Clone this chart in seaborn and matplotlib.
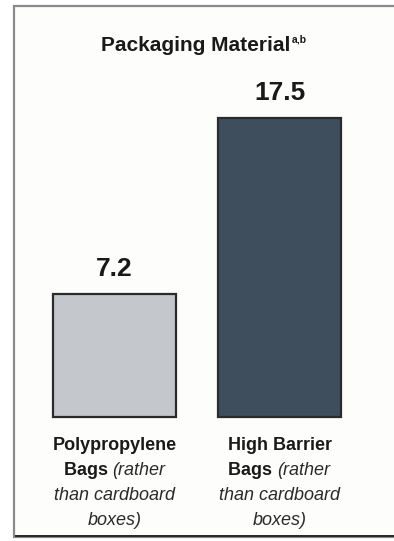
import matplotlib
matplotlib.use("Agg")
import matplotlib.pyplot as plt
from matplotlib.patches import Rectangle
from matplotlib import font_manager
import seaborn as sns
import pandas as pd

categories = ["Polypropylene", "High Barrier"]
values = [7.2, 17.5]
value_labels = ["7.2", "17.5"]
label_bold = [["Polypropylene", "Bags"], ["High Barrier", "Bags"]]
label_italic = [["(rather", "than cardboard", "boxes)"], ["(rather", "than cardboard", "boxes)"]]
title = "Packaging Material"
title_sup = "a,b"
bar_colors = ["#c4c7cc", "#3f4e5d"]

sns.set_theme(style="white")
avail = {f.name for f in font_manager.fontManager.ttflist}
fams = [f for f in ["Liberation Sans Narrow", "Liberation Sans", "DejaVu Sans"] if f in avail]
plt.rcParams["font.family"] = fams

W, H = 394, 541
fig = plt.figure(figsize=(W / 100, H / 100), dpi=100)
fig.patch.set_facecolor("white")

# frame
fig.patches.append(Rectangle((14 / W, 1 - 537 / H), 382 / W, 531 / H, transform=fig.transFigure,
                             facecolor="#fdfdfb", edgecolor="#8a8a8a", linewidth=1.6, zorder=-10))
fig.patches.append(Rectangle((15 / W, 1 - 537 / H), 381 / W, 2.2 / H, transform=fig.transFigure,
                             facecolor="#2a2a2a", edgecolor="none", zorder=-9))

ax_left, ax_right = 32, 362
ax_top, ax_bot = 60, 417
ax = fig.add_axes([ax_left / W, 1 - ax_bot / H, (ax_right - ax_left) / W, (ax_bot - ax_top) / H])
ax.set_facecolor("none")
ax.set_zorder(5)

df = pd.DataFrame({"cat": categories, "val": values})
sns.barplot(data=df, x="cat", y="val", hue="cat", palette=bar_colors, width=0.745,
            legend=False, ax=ax, edgecolor="#2b2b2b", linewidth=1.6, saturation=1)
for p in ax.patches:
    p.set_clip_on(False)
ymax = 17.5 * (ax_bot - ax_top) / (ax_bot - 118)
ax.set_ylim(0, ymax)
ax.set_xlim(-0.5, 1.5)
ax.axis("off")

for i, (v, lab) in enumerate(zip(values, value_labels)):
    ax.annotate(lab, (i, v), xytext=(0, 9), textcoords="offset points", ha="center", va="bottom",
                fontsize=19, fontweight="bold", color="#1a1a1a", annotation_clip=False)

# title
t = fig.text(196 / W, 1 - 51 / H, title, ha="center", va="baseline", fontsize=15,
             fontweight="bold", color="#1a1a1a")
fig.canvas.draw()
r = fig.canvas.get_renderer()
bb = t.get_window_extent(r)
fig.text(bb.x1 / W + 1 / W, 1 - 43 / H, title_sup, ha="left", va="baseline", fontsize=7.5,
         fontweight="bold", color="#1a1a1a")

# category labels
line_h = 25
first_base = 450
for i in range(len(categories)):
    xc = ax.transData.transform((i, 0))[0]
    lines = [[(label_bold[i][0], "bold")],
             [(label_bold[i][1] + " ", "bold"), (label_italic[i][0], "italic")],
             [(label_italic[i][1], "italic")],
             [(label_italic[i][2], "italic")]]
    for li, parts in enumerate(lines):
        ybase = 1 - (first_base + li * line_h) / H
        txts = []
        for s, sty in parts:
            kw = dict(fontweight="bold") if sty == "bold" else dict(fontstyle="italic")
            tt = fig.text(0, ybase, s, ha="left", va="baseline", fontsize=13,
                          color="#1a1a1a" if sty == "bold" else "#2a2a2a", **kw)
            txts.append(tt)
        fig.canvas.draw()
        widths = [tt.get_window_extent(r).width for tt in txts]
        total = sum(widths)
        x = xc - total / 2
        for tt, w in zip(txts, widths):
            tt.set_x(x / W)
            x += w

fig.savefig("out.png", dpi=100)
